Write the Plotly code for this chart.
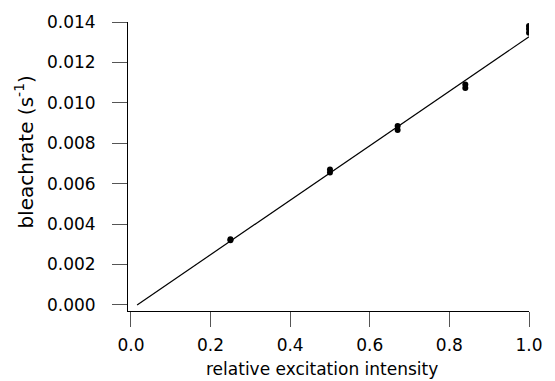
import plotly.graph_objects as go

# measured data (relative excitation intensity, bleach rate in 1/s)
intensity = [0.25, 0.25, 0.5, 0.5, 0.67, 0.67, 0.84, 0.84, 1.0, 1.0, 1.0]
bleachrate = [0.00325, 0.0032, 0.0067, 0.00655, 0.00886, 0.00866, 0.01091, 0.01073, 0.0138, 0.01365, 0.01347]

# linear fit endpoints
fit_x = [0.0155, 1.0]
fit_y = [0.0, 0.01327]

x_ticks = [0.0, 0.2, 0.4, 0.6, 0.8, 1.0]
y_ticks = [0.000, 0.002, 0.004, 0.006, 0.008, 0.010, 0.012, 0.014]

x_title = "relative excitation intensity"
y_title = "bleachrate (s<sup>-1</sup>)"

font = "DejaVu Sans, Liberation Sans, Arial, sans-serif"
fs = 17

fig = go.Figure()
fig.add_trace(go.Scatter(x=fit_x, y=fit_y, mode="lines",
                         line=dict(color="black", width=1.2), showlegend=False))
fig.add_trace(go.Scatter(x=intensity, y=bleachrate, mode="markers",
                         marker=dict(color="black", size=6), showlegend=False))

fig.update_layout(
    width=555, height=381,
    margin=dict(l=128, r=16, t=22, b=70),
    paper_bgcolor="white", plot_bgcolor="white",
    font=dict(family=font, size=fs, color="black"),
)
fig.update_xaxes(
    range=[-0.0074, 1.0], tickvals=x_ticks,
    ticktext=[f"{v:.1f}" for v in x_ticks],
    showgrid=False, zeroline=False,
    showline=True, linecolor="black", linewidth=1,
    ticks="outside", ticklen=15, tickcolor="#555", tickwidth=1,
    ticklabelstandoff=4,
)
fig.update_yaxes(
    range=[-0.0003, 0.014], tickvals=y_ticks,
    ticktext=[f"{v:.3f}" for v in y_ticks],
    showgrid=False, zeroline=False,
    showline=True, linecolor="black", linewidth=1,
    ticks="outside", ticklen=15, tickcolor="#555", tickwidth=1,
    ticklabelstandoff=13,
)
fig.add_annotation(text=x_title, xref="paper", yref="paper",
                   x=0.485, y=-0.2007, xanchor="center", yanchor="middle",
                   showarrow=False, font=dict(size=fs))
fig.add_annotation(text=y_title, xref="paper", yref="paper",
                   x=-0.258, y=0.55, xanchor="center", yanchor="middle",
                   textangle=-90, showarrow=False, font=dict(size=20))

fig.write_html("out.html", config={"displayModeBar": False},
               post_script="document.body.style.margin='0';document.body.style.overflow='hidden';")
